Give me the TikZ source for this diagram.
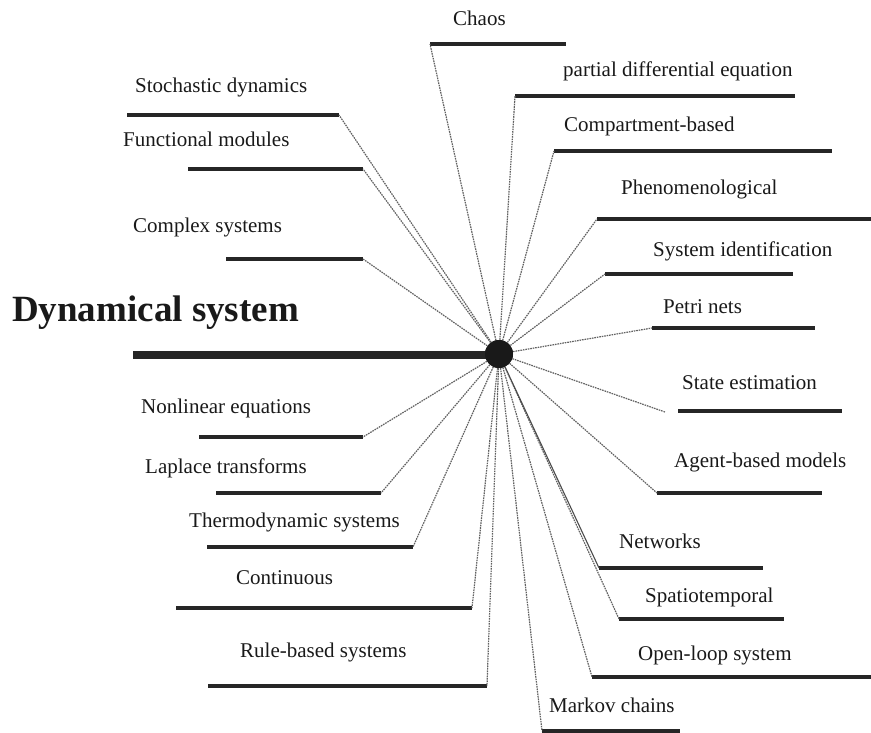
\documentclass[tikz,border=0pt]{standalone}
\usepackage{fontspec}
\setmainfont{Liberation Serif}
\begin{document}
\begin{tikzpicture}[x=1pt,y=-1pt,
  rule/.style={line width=3.6pt,color=black!85},
  link/.style={line width=1.2pt,color=black!62,dash pattern=on 1.6pt off 0.9pt},
  solidlink/.style={line width=1.1pt,color=black!70},
  lbl/.style={anchor=base west,inner sep=0pt,font=\fontsize{21}{25}\selectfont,text=black!90},
  title/.style={anchor=base west,inner sep=0pt,font=\fontsize{37}{42}\selectfont\bfseries,text=black!90}]
\useasboundingbox (0,0) rectangle (871,733);

% topic underlines and their captions
\foreach \n/\a/\b/\y/\tx/\ty/\t in {
  chaos/430/566/44/453/26/Chaos,
  pde/515/795/96/563/77/partial differential equation,
  comp/554/832/151/564/132/Compartment-based,
  phen/597/871/219/621/195/Phenomenological,
  sysid/605/793/274/653/256/System identification,
  petri/652/815/328/663/313/Petri nets,
  state/678/842/411/682/389/State estimation,
  agent/657/822/493/674/467/Agent-based models,
  netw/599/763/568/619/548/Networks,
  spat/619/784/619/645/602/Spatiotemporal,
  open/592/871/677/638/660/Open-loop system,
  markov/542/680/731/549/712/Markov chains,
  stoch/127/339/115/135/93/Stochastic dynamics,
  func/188/363/169/123/147/Functional modules,
  cplx/226/363/259/133/233/Complex systems,
  nonlin/199/363/437/141/413/Nonlinear equations,
  lapl/216/381/493/145/473/Laplace transforms,
  thermo/207/413/547/189/527/Thermodynamic systems,
  cont/176/472/608/236/584/Continuous,
  rule/208/487/686/240/657/Rule-based systems}
{
  \coordinate (\n-l) at (\a,\y);
  \coordinate (\n-r) at (\b,\y);
  \draw[rule] (\n-l) -- (\n-r);
  \node[lbl] (\n) at (\tx,\ty) {\t};
}

% central hub and main axis
\node[title] (dyn) at (12,321) {Dynamical system};
\coordinate (axis-l) at (133,355);
\node[circle,fill=black!90,minimum size=28pt,inner sep=0pt] (hub) at (499,354) {};
\draw[line width=8pt,color=black!85] (axis-l) -- (axis-l -| hub.center);
\coordinate (state-end) at (665,412);

% spokes from the hub
\foreach \n in {chaos,pde,comp,phen,sysid,petri,agent,spat,open,markov}
  \draw[link] (hub) -- (\n-l);
\foreach \n in {stoch,func,cplx,nonlin,lapl,thermo,cont,rule}
  \draw[link] (hub) -- (\n-r);
\draw[link] (hub) -- (state-end);
\draw[solidlink] (hub) -- (netw-l);

\node[circle,fill=black!90,minimum size=28pt,inner sep=0pt] at (hub) {};
\end{tikzpicture}
\end{document}
